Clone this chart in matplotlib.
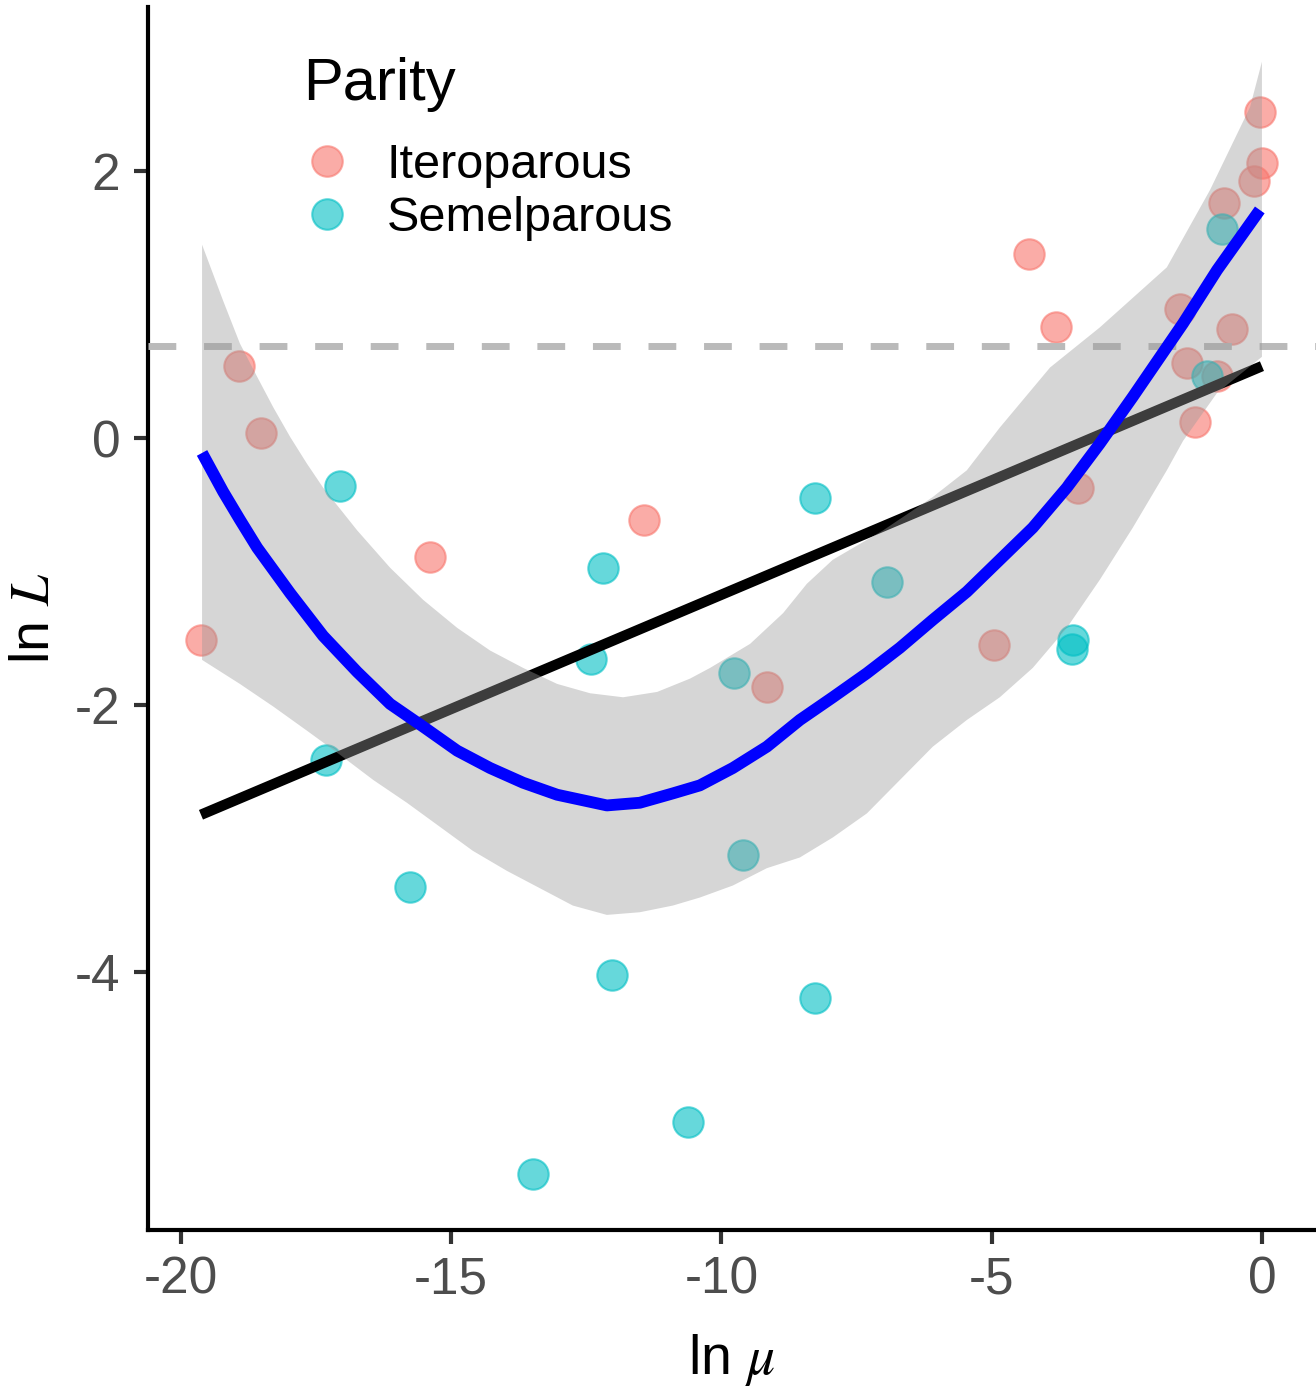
import numpy as np
import matplotlib
matplotlib.use("Agg")
import matplotlib.pyplot as plt
from matplotlib.lines import Line2D

plt.rcParams['font.family'] = ['Liberation Sans', 'DejaVu Sans']
plt.rcParams['mathtext.fontset'] = 'stix'

# data
ite_x = [-19.63, -18.93, -18.52, -15.39, -11.43, -9.16, -4.96, -4.31, -3.81, -3.40,
         -1.52, -1.39, -1.24, -0.83, -0.70, -0.56, -0.15, -0.04, 0.00]
ite_y = [-1.51, 0.54, 0.04, -0.89, -0.61, -1.86, -1.55, 1.38, 0.83, -0.37,
         0.97, 0.56, 0.12, 0.47, 1.76, 0.82, 1.93, 2.44, 2.06]

sem_x = [-17.32, -17.06, -15.76, -13.49, -12.41, -12.19, -12.03, -10.62, -9.77,
         -9.60, -8.27, -8.27, -6.94, -3.50, -3.52, -1.02, -0.74]
sem_y = [-2.41, -0.36, -3.36, -5.51, -1.65, -0.97, -4.02, -5.12, -1.76,
         -3.12, -0.45, -4.19, -1.08, -1.51, -1.58, 0.47, 1.57]

# linear fit (end points)
lin_x = [-19.63, 0.0]
lin_y = [-2.82, 0.54]

# loess curve
smooth_x = [-19.61, -19.22, -18.91, -18.59, -17.98, -17.37, -16.74, -16.13, -15.52,
            -14.89, -14.28, -13.67, -13.04, -12.12, -11.51, -10.90, -10.40, -9.79,
            -9.16, -8.55, -7.94, -7.31, -6.70, -6.09, -5.46, -4.85, -4.24, -3.61,
            -3.00, -2.39, -1.46, -0.83, -0.04]
smooth_y = [-0.11, -0.40, -0.61, -0.82, -1.16, -1.48, -1.75, -1.99, -2.16,
            -2.34, -2.47, -2.58, -2.67, -2.75, -2.73, -2.66, -2.60, -2.47,
            -2.31, -2.11, -1.94, -1.76, -1.57, -1.36, -1.15, -0.91, -0.67, -0.37,
            -0.04, 0.31, 0.86, 1.26, 1.71]

# confidence band
upper_x = [-19.61, -19.22, -18.91, -18.59, -18.29, -17.98, -17.67, -17.37, -16.74,
           -16.13, -15.52, -14.89, -14.28, -13.67, -13.04, -12.43, -11.82, -11.19,
           -10.58, -10.21, -9.47, -8.86, -8.42, -7.94, -7.01, -6.09, -5.46, -4.85,
           -3.92, -3.00, -1.76, -0.96, -0.22, 0.00]
upper_y = [1.45, 1.03, 0.71, 0.46, 0.23, 0.01, -0.19, -0.37, -0.69,
           -0.97, -1.21, -1.42, -1.59, -1.72, -1.84, -1.91, -1.94, -1.90,
           -1.80, -1.72, -1.54, -1.31, -1.09, -0.91, -0.69, -0.44, -0.24, 0.08,
           0.53, 0.83, 1.28, 1.86, 2.48, 2.82]
lower_x = [-19.61, -18.91, -18.29, -17.67, -17.06, -16.44, -15.82, -15.21, -14.60,
           -13.97, -13.36, -12.75, -12.12, -11.51, -10.90, -10.40, -9.79, -9.16,
           -8.55, -7.94, -7.31, -6.70, -6.09, -5.46, -4.85, -4.24, -3.61, -3.00,
           -2.39, -1.76, -1.46, -0.83, 0.00]
lower_y = [-1.66, -1.84, -2.01, -2.19, -2.37, -2.56, -2.73, -2.91, -3.09,
           -3.24, -3.37, -3.50, -3.57, -3.55, -3.50, -3.44, -3.35, -3.22,
           -3.14, -2.99, -2.81, -2.56, -2.31, -2.11, -1.94, -1.72, -1.42, -1.06,
           -0.67, -0.24, -0.02, 0.34, 0.61]

ref_y = np.log(2)

ite_col = '#F8766D'
sem_col = '#00BFC4'

fig = plt.figure(figsize=(13.16, 13.92), dpi=100)
ax = fig.add_axes([148/1316, 1 - 1230/1392, 1 - 148/1316, (1230 - 7)/1392])

ax.scatter(ite_x, ite_y, s=480, color=ite_col, alpha=0.6, linewidths=1.5, zorder=2)
ax.scatter(sem_x, sem_y, s=480, color=sem_col, alpha=0.6, linewidths=1.5, zorder=2)

ax.axhline(ref_y, color='#BABABA', lw=5, dashes=(4, 4), zorder=3)
ax.plot(lin_x, lin_y, color='black', lw=7.5, solid_capstyle='butt', zorder=4)
ax.fill(np.r_[upper_x, lower_x[::-1]], np.r_[upper_y, lower_y[::-1]],
        color='#999999', alpha=0.4, lw=0, zorder=5)
ax.plot(smooth_x, smooth_y, color='#0000FF', lw=8.5, solid_capstyle='butt',
        solid_joinstyle='round', zorder=6)

ax.set_xlim(-20.61, 1.0)
ax.set_ylim(-5.93, 3.23)
ax.set_xticks([-20, -15, -10, -5, 0])
ax.set_yticks([-4, -2, 0, 2])
ax.set_xticklabels(['-20', '-15', '-10', '-5', '0'])
ax.set_yticklabels(['-4', '-2', '0', '2'])

for side in ['top', 'right']:
    ax.spines[side].set_visible(False)
for side in ['left', 'bottom']:
    ax.spines[side].set_linewidth(3)
    ax.spines[side].set_color('black')
ax.tick_params(length=10, width=3, color='#333333', labelcolor='#4D4D4D',
               labelsize=37)
ax.tick_params(axis='x', pad=8)
ax.tick_params(axis='y', pad=10)

ax.set_xlabel(r'ln $\mu$', fontsize=40, labelpad=20)
ax.set_ylabel(r'ln $L$', fontsize=40, labelpad=10)

handles = [Line2D([], [], marker='o', ls='', markersize=22, markerfacecolor=ite_col,
                  markeredgecolor=ite_col, markeredgewidth=1.5, alpha=0.6),
           Line2D([], [], marker='o', ls='', markersize=22, markerfacecolor=sem_col,
                  markeredgecolor=sem_col, markeredgewidth=1.5, alpha=0.6)]
leg = ax.legend(handles, ['Iteroparous', 'Semelparous'], title='Parity',
                loc='upper left', bbox_to_anchor=(303/1316, 1 - 57/1392),
                bbox_transform=fig.transFigure, frameon=False, fontsize=35,
                title_fontsize=43, borderpad=0, borderaxespad=0,
                handlelength=1.0, handletextpad=0.72, labelspacing=0.17,
                alignment='left')
leg._legend_box.sep = 22

fig.savefig('out.png', dpi=100)
